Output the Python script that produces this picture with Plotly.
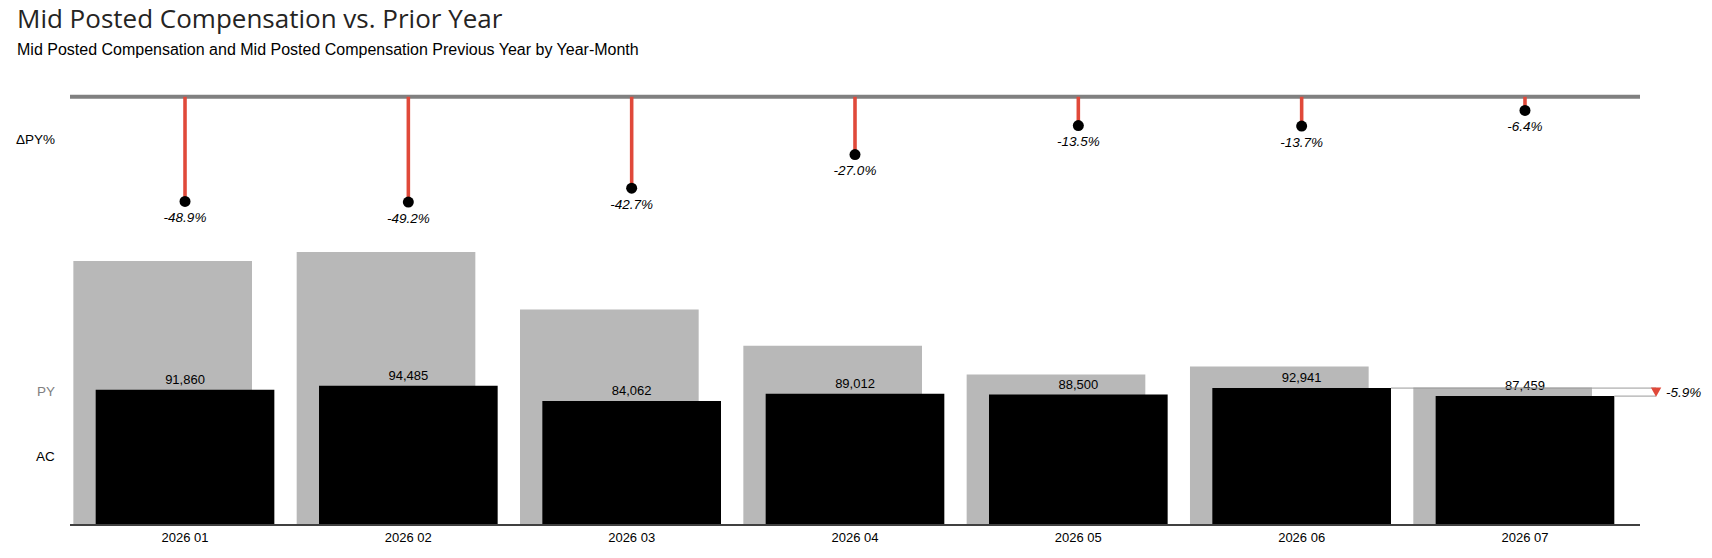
import plotly.graph_objects as go

# data
months = ['2026 01', '2026 02', '2026 03', '2026 04', '2026 05', '2026 06', '2026 07']
ac = [91860, 94485, 84062, 89012, 88500, 92941, 87459]
py = [179800, 186000, 146700, 121900, 102300, 107700, 93400]
dpy = [-48.9, -49.2, -42.7, -27.0, -13.5, -13.7, -6.4]

idx = list(range(len(months)))
red = '#E0493A'
grey_py = '#B8B8B8'
lbl_font = 'Liberation Sans, Arial, sans-serif'

x_rng = [-0.515, 6.515]
y_rng = [0, 193200]
y_dom = [0, 0.654]
plot_h = 432


def xpaper(v):
    # data x -> paper x, for marks that sit right of the plot area
    return (v - x_rng[0]) / (x_rng[1] - x_rng[0])


fig = go.Figure()

# bars: previous year behind, actual in front, shifted right
fig.add_trace(go.Bar(x=idx, y=py, width=0.8, offset=-0.5,
                     marker=dict(color=grey_py, line_width=0),
                     hoverinfo='skip', xaxis='x', yaxis='y'))
fig.add_trace(go.Bar(x=idx, y=ac, width=0.8, offset=-0.4,
                     marker=dict(color='#000000', line_width=0),
                     text=[f'{v:,}' for v in ac], textposition='outside',
                     textfont=dict(size=13, color='#000000', family=lbl_font),
                     cliponaxis=False, xaxis='x', yaxis='y'))

# delta PY% lollipops
fig.add_trace(go.Bar(x=idx, y=dpy, width=0.016, offset=-0.008,
                     marker=dict(color=red, line_width=0),
                     hoverinfo='skip', xaxis='x', yaxis='y2'))
fig.add_trace(go.Scatter(x=idx, y=dpy, mode='markers',
                         marker=dict(color='#000000', size=11),
                         cliponaxis=False, xaxis='x', yaxis='y2'))
fig.add_trace(go.Scatter(x=idx, y=dpy, mode='markers+text',
                         marker=dict(size=15.5, color='rgba(0,0,0,0)'),
                         text=[f'<i>{v:.1f}%</i>' for v in dpy],
                         textposition='bottom center',
                         textfont=dict(size=13.5, color='#000000', family=lbl_font),
                         hoverinfo='skip', cliponaxis=False, xaxis='x', yaxis='y2'))

# last month vs previous month marker
end_x = 6.587
last_d = (ac[-1] / ac[-2] - 1) * 100
mid = (ac[-1] + ac[-2]) / 2
fig.add_shape(type='line', xref='paper', yref='y', x0=xpaper(5.4), x1=xpaper(end_x),
              y0=ac[-2], y1=ac[-2], line=dict(color='#9A9A9A', width=1))
fig.add_shape(type='line', xref='paper', yref='y', x0=xpaper(6.4), x1=xpaper(end_x),
              y0=ac[-1], y1=ac[-1], line=dict(color='#9A9A9A', width=1))
unit = (y_rng[1] - y_rng[0]) / (plot_h * (y_dom[1] - y_dom[0]))  # value per pixel
hw = 5.2 / 1570
hh = 4.6 * unit
cx = xpaper(end_x)
fig.add_shape(type='path', xref='paper', yref='y',
              path=f'M {cx - hw},{mid + hh} L {cx + hw},{mid + hh} L {cx},{mid - hh} Z',
              fillcolor=red, line=dict(width=0))
fig.add_annotation(x=xpaper(end_x + 0.035), y=mid, xref='paper', yref='y',
                   text=f'<i>{last_d:.1f}%</i>', showarrow=False,
                   xanchor='left', yanchor='middle',
                   font=dict(size=13.5, color='#000000', family=lbl_font))

# baseline of the delta panel
fig.add_shape(type='line', xref='paper', yref='y2', x0=0, x1=1, y0=0, y1=0,
              line=dict(color='#808080', width=4), layer='below')

# row labels
for txt, yy, col in [('ΔPY%', 0.889, '#000000'), ('PY', 0.306, '#808080'), ('AC', 0.157, '#000000')]:
    fig.add_annotation(x=-0.0083, y=yy, xref='paper', yref='paper', text=txt,
                       showarrow=False, xanchor='right', yanchor='middle',
                       font=dict(size=13.5, color=col, family=lbl_font))

# title and subtitle
fig.add_annotation(x=-0.0344, y=1.172, xref='paper', yref='paper',
                   text='Mid Posted Compensation vs. Prior Year', showarrow=False,
                   xanchor='left', yanchor='middle', borderpad=0,
                   font=dict(size=26, color='#252423', family='Open Sans, sans-serif'))
fig.add_annotation(x=-0.0344, y=1.0984, xref='paper', yref='paper',
                   text='Mid Posted Compensation and Mid Posted Compensation Previous Year by Year-Month',
                   showarrow=False, xanchor='left', yanchor='middle', borderpad=0,
                   font=dict(size=16, color='#000000', family=lbl_font))

fig.update_layout(
    width=1712, height=558,
    margin=dict(l=70, r=72, t=92, b=34),
    paper_bgcolor='white', plot_bgcolor='white',
    barmode='overlay', showlegend=False,
    xaxis=dict(range=x_rng, tickvals=idx, ticktext=months,
               showgrid=False, zeroline=False, showline=True,
               linecolor='#404040', linewidth=2, ticks='',
               tickfont=dict(size=13, color='#000000', family=lbl_font),
               anchor='y', fixedrange=True),
    yaxis=dict(domain=y_dom, range=y_rng, visible=False, fixedrange=True),
    yaxis2=dict(domain=[0.654, 1], range=[-67.6, 2.19], visible=False, fixedrange=True),
)

# page without the browser's default body margin, no modebar
fig.write_html('out.html', config={'displayModeBar': False},
               post_script="document.body.style.margin='0';")
